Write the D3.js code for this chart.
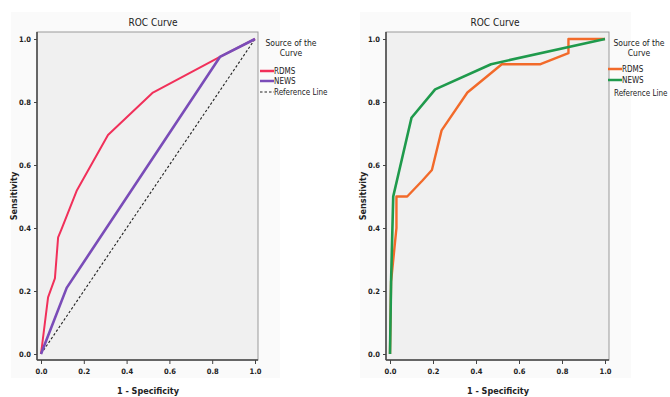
<!DOCTYPE html>
<html>
<head>
<meta charset="utf-8">
<script src="https://cdn.jsdelivr.net/npm/d3@7"></script>
<style>
  html, body { margin: 0; padding: 0; background: #ffffff; }
  svg { display: block; }
  text { font-family: "DejaVu Sans Condensed", "Liberation Sans", Arial, sans-serif; fill: #222; }
</style>
</head>
<body>
<svg id="chart" width="670" height="397"></svg>
<script>
// Axis ticks shared by both panels
const tickValues = [0, 0.2, 0.4, 0.6, 0.8, 1.0];

// Left panel: ROC points as [1 - specificity, sensitivity]
const leftRdms = [[0, 0], [0.033, 0.18], [0.065, 0.24], [0.08, 0.37], [0.095, 0.395], [0.168, 0.52], [0.313, 0.695], [0.523, 0.83], [0.836, 0.943], [1, 1]];
const leftNews = [[0, 0], [0.12, 0.21], [0.836, 0.943], [1, 1]];
const referenceLine = [[0, 0], [1, 1]];

// Right panel: ROC points as [1 - specificity, sensitivity]
const rightRdms = [[0, 0], [0.005, 0.23], [0.03, 0.40], [0.03, 0.50], [0.08, 0.50], [0.15, 0.55], [0.195, 0.584], [0.24, 0.71], [0.36, 0.83], [0.52, 0.92], [0.70, 0.92], [0.83, 0.955], [0.83, 1.0], [1, 1]];
const rightNews = [[0, 0], [0.005, 0.23], [0.015, 0.5], [0.10, 0.75], [0.21, 0.84], [0.47, 0.92], [1, 1]];

const seriesNames = ["RDMS", "NEWS", "Reference Line"];

const svg = d3.select("#chart");
const fontStack = "\"DejaVu Sans Condensed\", \"Liberation Sans\", Arial, sans-serif";

function drawPanel(opt) {
  const g = svg.append("g");

  // faint backdrop behind the chart
  g.append("rect")
    .attr("x", opt.frame[0] - 26).attr("y", 12)
    .attr("width", opt.frame[1] - opt.frame[0] + 48).attr("height", 366)
    .attr("fill", "#fafafa");

  // plot area
  g.append("rect")
    .attr("x", opt.frame[0]).attr("y", 32)
    .attr("width", opt.frame[1] - opt.frame[0]).attr("height", 328)
    .attr("fill", "#f0f0f0")
    .attr("stroke", "#9a9a9a").attr("stroke-width", 1);

  const x = d3.scaleLinear().domain([0, 1]).range(opt.xRange);
  const y = d3.scaleLinear().domain([0, 1]).range([354, 39]);

  const fmt = d3.format(".1f");

  const xAxis = g.append("g")
    .attr("transform", "translate(0,360)")
    .call(d3.axisBottom(x).tickValues(tickValues).tickFormat(fmt).tickSize(4).tickSizeOuter(0));
  xAxis.select(".domain").attr("d", `M${opt.frame[0]},0H${opt.frame[1]}`).attr("stroke", "#444").attr("stroke-width", 1.5);
  xAxis.selectAll(".tick line").attr("stroke", "#444");
  xAxis.selectAll(".tick text").attr("dy", "0.9em").attr("font-size", 7.5).attr("font-weight", "bold").attr("fill", "#333")
    .attr("font-family", fontStack);

  const yAxis = g.append("g")
    .attr("transform", `translate(${opt.frame[0]},0)`)
    .call(d3.axisLeft(y).tickValues(tickValues).tickFormat(fmt).tickSize(3).tickSizeOuter(0));
  yAxis.select(".domain").attr("d", "M0,32V360").attr("stroke", "#444").attr("stroke-width", 1.5);
  yAxis.selectAll(".tick line").attr("stroke", "#444");
  yAxis.selectAll(".tick text").attr("font-size", 7.5).attr("font-weight", "bold").attr("fill", "#333")
    .attr("font-family", fontStack);

  const line = d3.line().x(d => x(d[0])).y(d => y(d[1]));

  if (opt.showReference) {
    g.append("path").datum(referenceLine)
      .attr("d", line).attr("fill", "none")
      .attr("stroke", "#222").attr("stroke-width", 1.1).attr("stroke-dasharray", "2.5,2");
  }
  opt.series.forEach(s => {
    g.append("path").datum(s.data)
      .attr("d", line).attr("fill", "none")
      .attr("stroke", s.color).attr("stroke-width", s.width)
      .attr("stroke-linejoin", "round");
  });

  // titles
  g.append("text").attr("x", opt.titleX).attr("y", 26)
    .attr("text-anchor", "middle").attr("font-size", 10).text("ROC Curve");
  g.append("text").attr("x", opt.xLabelX).attr("y", 394)
    .attr("text-anchor", "middle").attr("font-size", 9).attr("font-weight", "bold").text("1 - Specificity");
  g.append("text")
    .attr("transform", `translate(${opt.yLabelX},196) rotate(-90)`)
    .attr("text-anchor", "middle").attr("font-size", 9).attr("font-weight", "bold").text("Sensitivity");

  // legend
  const lg = g.append("g");
  lg.append("text").attr("x", opt.legendX + 27).attr("y", 46)
    .attr("text-anchor", "middle").attr("font-size", 8.5).text("Source of the");
  lg.append("text").attr("x", opt.legendX + 27).attr("y", 56)
    .attr("text-anchor", "middle").attr("font-size", 8.5).text("Curve");
  const rows = [
    { name: seriesNames[0], color: opt.series[0].color, dash: null, y: opt.legendY[0] },
    { name: seriesNames[1], color: opt.series[1].color, dash: null, y: opt.legendY[1] },
    { name: seriesNames[2], color: opt.showReference ? "#222" : null, dash: "2.5,2", y: opt.legendY[2] }
  ];
  rows.forEach(r => {
    if (r.color) {
      lg.append("line")
        .attr("x1", opt.legendX - 4).attr("x2", opt.legendX + 10)
        .attr("y1", r.y).attr("y2", r.y)
        .attr("stroke", r.color).attr("stroke-width", r.dash ? 1.1 : 2.5)
        .attr("stroke-dasharray", r.dash);
    }
    lg.append("text").attr("x", r.color ? opt.legendX + 10 : opt.legendX + 2).attr("y", r.y + 3)
      .attr("font-size", 8).text(r.name);
  });
}

drawPanel({
  frame: [37, 258], xRange: [41, 255],
  titleX: 153, xLabelX: 148, yLabelX: 17,
  legendX: 264, legendY: [71, 81, 92],
  showReference: true,
  series: [
    { data: leftRdms, color: "#f1305a", width: 2 },
    { data: leftNews, color: "#7a4cb8", width: 2.6 }
  ]
});

drawPanel({
  frame: [386, 609], xRange: [390, 605],
  titleX: 495, xLabelX: 498, yLabelX: 366,
  legendX: 612, legendY: [69, 80, 93],
  showReference: false,
  series: [
    { data: rightRdms, color: "#f26a2a", width: 2.4 },
    { data: rightNews, color: "#1f9a4c", width: 2.6 }
  ]
});
</script>
</body>
</html>
